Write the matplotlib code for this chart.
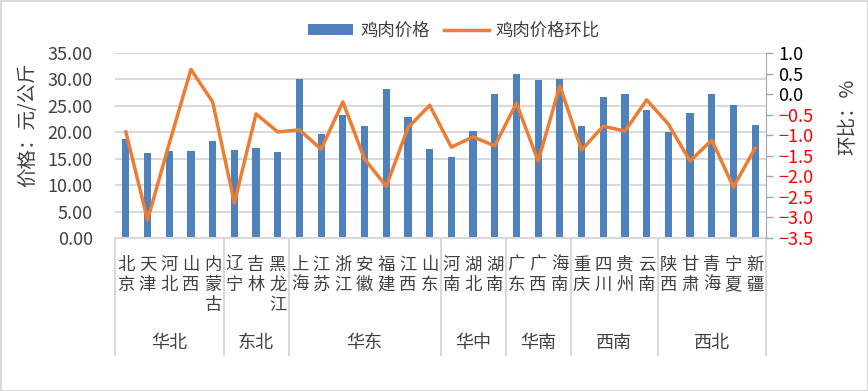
import matplotlib
matplotlib.use("Agg")
import matplotlib.pyplot as plt
from matplotlib.patches import Rectangle
from matplotlib.lines import Line2D
from matplotlib.patches import Patch
import numpy as np

plt.rcParams['font.family'] = ['Noto Sans CJK SC', 'DejaVu Sans']
plt.rcParams['axes.unicode_minus'] = True

provinces = ["北京", "天津", "河北", "山西", "内蒙古",
             "辽宁", "吉林", "黑龙江",
             "上海", "江苏", "浙江", "安徽", "福建", "江西", "山东",
             "河南", "湖北", "湖南",
             "广东", "广西", "海南",
             "重庆", "四川", "贵州", "云南",
             "陕西", "甘肃", "青海", "宁夏", "新疆"]
regions = ["华北", "东北", "华东", "华中", "华南", "西南", "西北"]
region_sizes = [5, 3, 7, 3, 3, 4, 5]

price = [18.8, 16.0, 16.4, 16.4, 18.3,
         16.6, 17.1, 16.2,
         30.0, 19.6, 23.2, 21.1, 28.1, 22.8, 16.8,
         15.4, 20.2, 27.2,
         31.1, 29.8, 30.0,
         21.1, 26.6, 27.2, 24.3,
         20.0, 23.7, 27.2, 25.1, 21.3]
mom = [-0.92, -3.06, -1.20, 0.60, -0.19,
       -2.65, -0.48, -0.92,
       -0.87, -1.34, -0.19, -1.58, -2.24, -0.82, -0.27,
       -1.29, -1.04, -1.26,
       -0.22, -1.63, 0.20,
       -1.36, -0.78, -0.90, -0.14,
       -0.73, -1.63, -1.12, -2.26, -1.31]

left_ticks = [0, 5, 10, 15, 20, 25, 30, 35]
right_ticks = [1.0, 0.5, 0.0, -0.5, -1.0, -1.5, -2.0, -2.5, -3.0, -3.5]

W, H = 868, 391
fig = plt.figure(figsize=(W/100, H/100), dpi=100)
fig.patches.append(Rectangle((0.5/W, 0.5/H), 1-1/W, 1-1/H, transform=fig.transFigure,
                             fill=False, edgecolor='#d9d9d9', linewidth=1.5))

ax = fig.add_axes([115/W, 1-238/H, (766-115)/W, (238-53)/H])
x = np.arange(len(provinces))
blue = '#4F81BD'
orange = '#ED7D31'
grid = '#d9d9d9'
ax.bar(x, price, width=0.33, color=blue, zorder=2)
ax.set_xlim(-0.5, len(provinces)-0.5)
ax.set_ylim(0, 35)
ax.set_yticks(left_ticks)
ax.set_yticklabels([f"{v:.2f}" for v in left_ticks], fontsize=13, color='#404040')
ax.tick_params(axis='y', length=0, pad=16)
ax.set_xticks([])
for s in ['top', 'left', 'right']:
    ax.spines[s].set_visible(False)
ax.spines['bottom'].set_color(grid)
ax.spines['bottom'].set_linewidth(1.5)
ax.yaxis.grid(True, color=grid, linewidth=1.5, zorder=0)
ax.set_axisbelow(True)

ax2 = ax.twinx()
ax2.plot(x, mom, color=orange, linewidth=2.5, zorder=3)
ax2.set_ylim(-3.5, 1.0)
ax2.set_yticks(right_ticks)
ax2.set_yticklabels([f"{v:.1f}".replace('-', '−') for v in right_ticks], fontsize=13)
for lab, v in zip(ax2.get_yticklabels(), right_ticks):
    lab.set_color('red' if v < 0 else 'black')
ax2.tick_params(axis='y', length=5, color='#a6a6a6', width=1, pad=4)
for s in ['top', 'left', 'bottom']:
    ax2.spines[s].set_visible(False)
ax2.spines['right'].set_color('#a6a6a6')
ax2.set_xlim(-0.5, len(provinces)-0.5)

# category labels
trans = ax.get_xaxis_transform()
for i, p in enumerate(provinces):
    ax.text(i, -0.095, "\n".join(p), transform=trans, ha='center', va='top',
            fontsize=12.5, color='#404040', linespacing=1.15)
# separators and region labels
bounds = [-0.5]
for s in region_sizes:
    bounds.append(bounds[-1] + s)
for b in bounds:
    ax.add_line(Line2D([b, b], [0, -0.632], transform=trans, color=grid,
                       linewidth=1.5, clip_on=False))
for r, a, b in zip(regions, bounds[:-1], bounds[1:]):
    ax.text((a+b)/2, -0.568, r, transform=trans, ha='center', va='center',
            fontsize=13, color='#404040')

fig.text(28/W, 1-125/H, "价格：元/公斤", rotation=90, ha='center', va='center',
         fontsize=14, color='#404040')
fig.text(848/W, 1-117/H, "环比：%", rotation=90, ha='center', va='center',
         fontsize=14, color='#404040')

handles = [Patch(facecolor=blue, edgecolor='none'),
           Line2D([0], [0], color=orange, linewidth=2.5)]
fig.legend(handles, ["鸡肉价格", "鸡肉价格环比"], loc='center', ncol=2,
           bbox_to_anchor=(454/W, 1-31/H), frameon=False, fontsize=12.5,
           handlelength=2.6, handleheight=0.6, columnspacing=0.8, handletextpad=0.4,
           labelcolor='#404040')

fig.savefig("out.png", dpi=100)
